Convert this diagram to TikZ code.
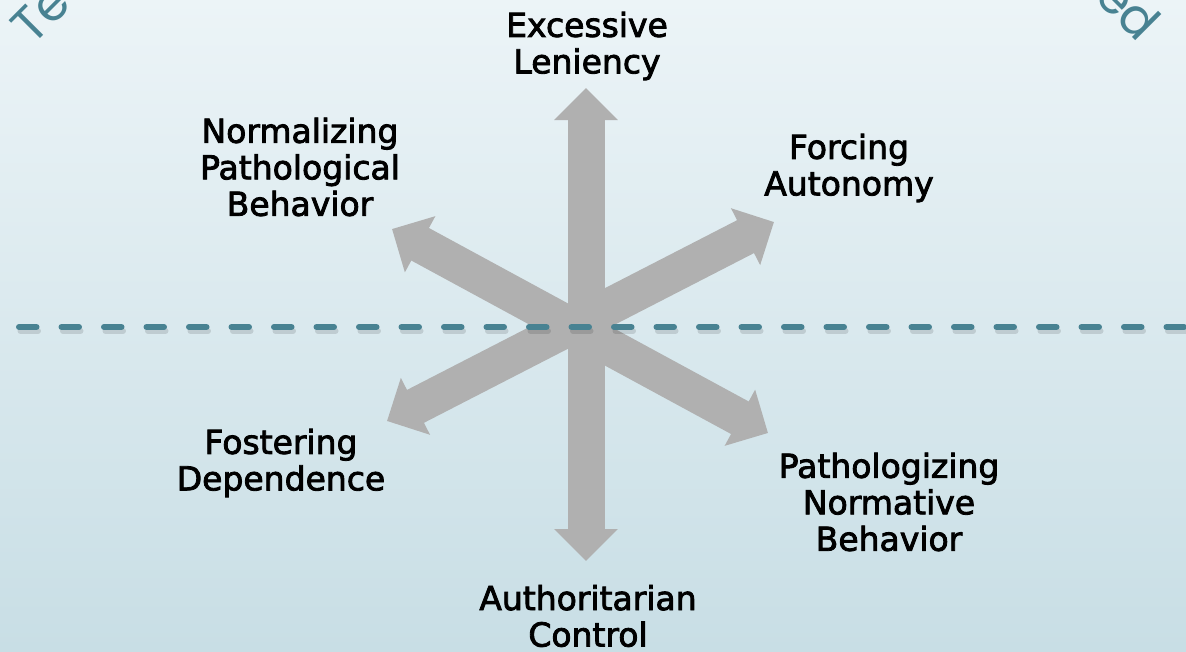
\documentclass[tikz,border=0pt]{standalone}
\usepackage{fontspec}
\newfontfamily\labfont{DejaVu Sans}[FakeBold=2.5]
\newfontfamily\cornerfont{Poppins}
\usetikzlibrary{arrows.meta}
\definecolor{bgtop}{RGB}{236,244,247}
\definecolor{bgbot}{RGB}{200,222,229}
\definecolor{arrowgray}{RGB}{176,176,176}
\definecolor{dashteal}{RGB}{72,130,146}
\begin{document}
\begin{tikzpicture}[x=1pt,y=-1pt,
  bigarrow/.style={line width=37pt, draw=arrowgray,
    {Triangle[width=62pt,length=32pt]}-{Triangle[width=62pt,length=32pt]}},
  lab/.style={font=\labfont\fontsize{33}{36.5}\selectfont, align=center, inner sep=0pt, text=black},
  corner/.style={font=\cornerfont\fontsize{50}{60}\selectfont, text=dashteal, inner sep=0pt},
  dashline/.style={line width=6pt, line cap=round, dash pattern=on 17.5pt off 25pt}]
% background
\shade[top color=bgtop, bottom color=bgbot] (0,0) rectangle (1186,651);
\useasboundingbox (0,0) rectangle (1186,651);
\clip (0,0) rectangle (1186,651);
% corner texts
\node[corner, rotate=45, anchor=base west] (te) at (32,47) {Te};
\node[corner, rotate=-45, anchor=base east] (ed) at (1139,44) {ed};
% arrow tips
\coordinate (tU) at (586,88);
\coordinate (tD) at (586,561);
\coordinate (tUL) at (392,229);
\coordinate (tLR) at (768,433);
\coordinate (tLL) at (387,421);
\coordinate (tUR) at (774,222);
\draw[bigarrow] (tUL) -- (tLR);
\draw[bigarrow] (tLL) -- (tUR);
\draw[bigarrow] (tU) -- (tD);
% dashed line with shadow
\coordinate (dL) at (19,327);
\coordinate (dR) at (1200,327);
\draw[dashline, draw=black, opacity=0.12] ([shift={(1.5,4)}]dL) -- ([shift={(1.5,4)}]dR);
\draw[dashline, draw=dashteal] (dL) -- (dR);
% labels
\node[lab] (el) at (587,46) {Excessive\\Leniency};
\node[lab] (npb) at (300,167) {Normalizing\\Pathological\\Behavior};
\node[lab] (fa) at (849,168) {Forcing\\Autonomy};
\node[lab] (fd) at (281,463) {Fostering\\Dependence};
\node[lab] (pnb) at (889,502) {Pathologizing\\Normative\\Behavior};
\node[lab] (ac) at (588,616) {Authoritarian\\Control};
\end{tikzpicture}
\end{document}
